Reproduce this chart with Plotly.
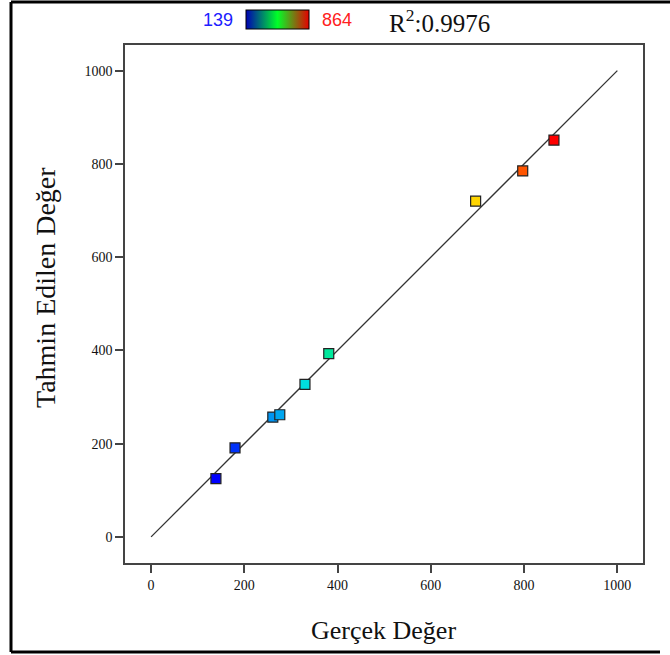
import plotly.graph_objects as go

actual = [139, 180, 261, 276, 330, 381, 696, 797, 864]
predicted = [125, 191, 257, 262, 327, 393, 720, 785, 851]
color_min, color_max = 139, 864
r2_text = "R<sup>2</sup>:0.9976"
x_title = "Gerçek Değer"
y_title = "Tahmin Edilen Değer"
tick_vals = [0, 200, 400, 600, 800, 1000]
line_ends = [0, 1000]

point_scale = [[0.0, "rgb(0,0,255)"], [0.25, "rgb(0,220,235)"], [0.5, "rgb(0,255,0)"],
               [0.75, "rgb(255,230,0)"], [1.0, "rgb(255,0,0)"]]
legend_scale = [[0.0, "rgb(0,0,180)"], [0.5, "rgb(0,255,40)"], [1.0, "rgb(230,0,0)"]]

W, H = 670, 655
L, R, T, B = 125, 27, 45, 92
pw, ph = W - L - R, H - T - B

def px(x):
    return (x - L) / pw

def py(y):
    return (H - B - y) / ph

fig = go.Figure()
fig.add_trace(go.Scatter(x=line_ends, y=line_ends, mode="lines",
                         line=dict(color="#333333", width=1.3), showlegend=False, hoverinfo="skip"))
fig.add_trace(go.Scatter(x=actual, y=predicted, mode="markers", showlegend=False,
                         marker=dict(symbol="square", size=10, color=actual, cmin=color_min, cmax=color_max,
                                     colorscale=point_scale, showscale=False,
                                     line=dict(color="#222222", width=1.2))))
fig.add_trace(go.Scatter(x=[None], y=[None], mode="markers", showlegend=False, hoverinfo="skip",
                         marker=dict(color=[color_min, color_max], cmin=color_min, cmax=color_max,
                                     colorscale=legend_scale, showscale=True,
                                     colorbar=dict(orientation="h", x=px(277.5), xanchor="center",
                                                   y=py(20), yanchor="middle", len=63, lenmode="pixels",
                                                   thickness=19, thicknessmode="pixels", outlinewidth=1,
                                                   outlinecolor="#000000", showticklabels=False, ticks="",
                                                   xpad=0, ypad=0))))

axis_common = dict(range=[-56, 1055], tickvals=tick_vals, ticks="outside", ticklen=8, tickwidth=1.5,
                   tickcolor="#444444", showline=True, linecolor="#444444", linewidth=1.5, mirror=True,
                   showgrid=False, zeroline=False,
                   tickfont=dict(family="Liberation Serif", size=14, color="#111111"))
fig.update_xaxes(**axis_common)
fig.update_yaxes(**axis_common)

annotations = [
    dict(x=px(218), y=py(20), xref="paper", yref="paper", text=str(color_min), showarrow=False,
         font=dict(family="Liberation Sans", size=18, color="#2020ff"), xanchor="center", yanchor="middle"),
    dict(x=px(337), y=py(20), xref="paper", yref="paper", text=str(color_max), showarrow=False,
         font=dict(family="Liberation Sans", size=18, color="#ff2020"), xanchor="center", yanchor="middle"),
    dict(x=px(387), y=py(21), xref="paper", yref="paper", text=r2_text, showarrow=False,
         font=dict(family="Liberation Serif", size=25, color="#111111"), xanchor="left", yanchor="middle"),
    dict(x=px(383), y=py(630), xref="paper", yref="paper", text=x_title, showarrow=False,
         font=dict(family="Liberation Serif", size=26, color="#111111"), xanchor="center", yanchor="middle"),
    dict(x=px(45), y=py(288), xref="paper", yref="paper", text=y_title, showarrow=False, textangle=-90,
         font=dict(family="Liberation Serif", size=28, color="#111111"), xanchor="center", yanchor="middle"),
]

shapes = [
    dict(type="line", xref="paper", yref="paper", x0=px(11), x1=px(11), y0=py(2), y1=py(652),
         line=dict(color="black", width=3)),
    dict(type="line", xref="paper", yref="paper", x0=px(11), x1=px(670), y0=py(2), y1=py(2),
         line=dict(color="black", width=3)),
    dict(type="line", xref="paper", yref="paper", x0=px(11), x1=px(660), y0=py(652), y1=py(652),
         line=dict(color="black", width=3)),
]

fig.update_layout(width=W, height=H, margin=dict(l=L, r=R, t=T, b=B, autoexpand=False),
                  paper_bgcolor="white", plot_bgcolor="white", annotations=annotations, shapes=shapes)
fig.write_html("out.html")
